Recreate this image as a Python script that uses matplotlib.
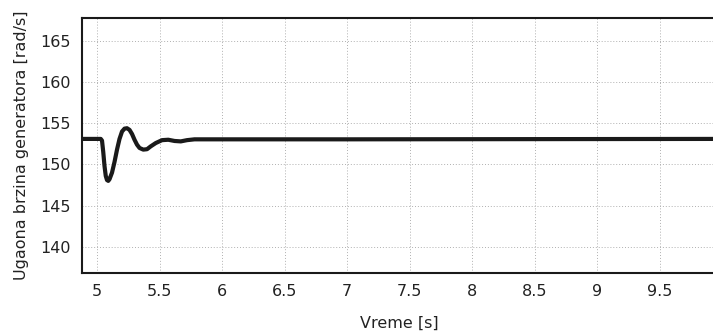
import matplotlib
matplotlib.use("Agg")
import matplotlib.pyplot as plt

t = [4.88, 5.03, 5.04, 5.05, 5.06, 5.07, 5.08, 5.09, 5.10, 5.12, 5.14, 5.16, 5.18,
     5.20, 5.22, 5.24, 5.26, 5.28, 5.30, 5.32, 5.34, 5.37, 5.40, 5.43, 5.47, 5.52,
     5.57, 5.62, 5.67, 5.72, 5.78, 5.9, 7.0, 9.95]
omega = [153.1, 153.1, 152.9, 151.5, 149.8, 148.6, 148.1, 148.0, 148.2, 149.0, 150.3,
         151.8, 153.1, 154.0, 154.35, 154.4, 154.2, 153.7, 153.0, 152.4, 152.0, 151.8,
         151.85, 152.2, 152.6, 152.95, 153.0, 152.85, 152.8, 152.95, 153.05, 153.05,
         153.05, 153.1]

xticks = [5, 5.5, 6, 6.5, 7, 7.5, 8, 8.5, 9, 9.5]
xticklabels = ["5", "5.5", "6", "6.5", "7", "7.5", "8", "8.5", "9", "9.5"]
yticks = [140, 145, 150, 155, 160, 165]

plt.rcParams['font.family'] = ['DejaVu Sans']
fig = plt.figure(figsize=(7.13, 3.34), dpi=100)
ax = fig.add_axes([82/713, 61/334, 634/713, 255/334])
ax.plot(t, omega, color="#1a1a1a", lw=3.0, solid_capstyle="round", solid_joinstyle="round")
ax.set_xlim(4.88, 9.95)
ax.set_ylim(136.8, 167.8)
ax.set_xticks(xticks)
ax.set_xticklabels(xticklabels)
ax.set_yticks(yticks)
ax.grid(True, color="#b0b0b0", linestyle=(0, (1, 2)), linewidth=0.7)
ax.tick_params(direction="in", length=0, labelsize=11.5, colors="#222222", pad=8)
for s in ax.spines.values():
    s.set_linewidth(1.5)
    s.set_color("#1a1a1a")
ax.set_xlabel("Vreme [s]", fontsize=11.5, color="#222222", labelpad=12)
ax.set_ylabel("Ugaona brzina generatora [rad/s]", fontsize=11.5, color="#222222", labelpad=8)
fig.savefig("out.png", dpi=100)
